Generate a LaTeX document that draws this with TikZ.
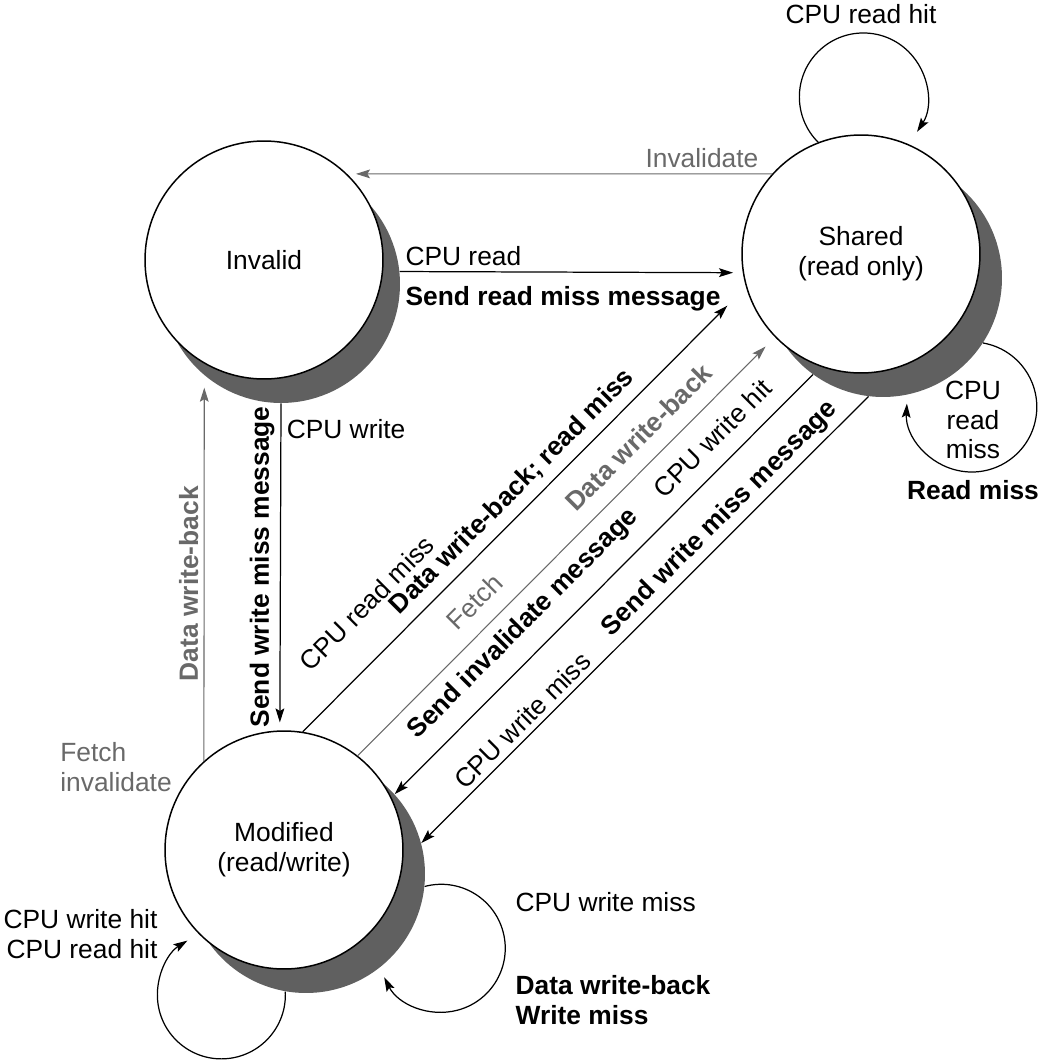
\documentclass[tikz,border=0pt]{standalone}
\usepackage{fontspec}
\setmainfont{Liberation Sans}
\usetikzlibrary{positioning,calc,arrows.meta}

\definecolor{darkshade}{RGB}{96,96,96}
\definecolor{msggray}{RGB}{105,105,105}

\tikzset{
  statenode/.style={circle, draw, fill=white, line width=0.85pt, minimum size=4.76cm, inner sep=0pt, align=center},
  shadowdisk/.style={circle, fill=darkshade, minimum size=4.76cm, inner sep=0pt},
  arr/.style={-{Stealth[length=8pt,width=5pt,inset=1.5pt]}, line width=0.7pt},
  backarr/.style={{Stealth[length=8pt,width=5pt,inset=1.5pt]}-, line width=0.7pt},
  garr/.style={arr, draw=msggray, line width=0.6pt},
  lbl/.style={inner sep=3pt},
  blbl/.style={lbl, font=\fontsize{15}{17}\selectfont\bfseries},
  glbl/.style={lbl, text=msggray},
  gblbl/.style={blbl, text=msggray},
}

\begin{document}
\begin{tikzpicture}[x=0.02cm, y=-0.02cm, every node/.style={font=\fontsize{15}{17}\selectfont}]
  \useasboundingbox (0,0) rectangle (1043,1064);

  % states
  \node[shadowdisk] (invsh) at (281,284) {};
  \node[shadowdisk] (shash) at (883,278) {};
  \node[shadowdisk] (modsh) at (306,874) {};
  \node[statenode] (inv) at (264,260) {Invalid};
  \node[statenode] (sha) at (861,254) {Shared\\(read only)};
  \node[statenode] (mod) at (284,850) {Modified\\(read/write)};

  % Invalid <-> Shared
  \draw[garr, shorten >=5pt] (sha.138) -- (inv.46)
    node[glbl, pos=0.165, above] (invtxt) {Invalidate};
  \draw[arr, shorten >=5.5pt] (invsh.6) -- (sha.189)
    node[lbl, pos=0, anchor=south west] (rdtxt) {CPU read}
    node[blbl, pos=0, anchor=north west, yshift=-5pt] (rdmsg) {Send read miss message};

  % Invalid <-> Modified
  \draw[arr, shorten >=4.5pt] (invsh.-90.5) -- (mod.92)
    node[lbl, pos=0.08, right] (cwtxt) {CPU write}
    node[blbl, midway, rotate=90, anchor=south] (cwmsg) {Send write miss message};
  \draw[garr, shorten >=7pt] (mod.132) -- (invsh.-130.3)
    node[gblbl, pos=0.46, sloped, above] (dwbtxt) {Data write-back}
    node[glbl, pos=0, left=15pt, yshift=-3.5pt, align=left] (fitxt) {Fetch\\invalidate};

  % Modified <-> Shared
  \draw[arr, shorten >=15pt] (mod.81.5) -- (sha.196.2)
    node[lbl, pos=0.217, sloped, above=17pt] (crmtxt) {CPU read miss}
    node[blbl, pos=0.506, sloped, above=2pt] (crmmsg) {Data write-back; read miss};
  \draw[garr, shorten >=7.5pt] (mod.52.5) -- (sha.224)
    node[glbl, pos=0.324, sloped, above=6pt] (fetchtxt) {Fetch}
    node[gblbl, pos=0.717, sloped, above=6pt] (fdwbtxt) {Data write-back};
  \draw[backarr] (modsh.42.3) -- (shash.234.6)
    node[blbl, pos=0.357, sloped, above=6pt] (sinvmsg) {Send invalidate message}
    node[lbl, pos=0.804, sloped, above=6pt] (cwhtxt) {CPU write hit};
  \draw[backarr] (modsh.15.1) -- (shash.263.2)
    node[lbl, pos=0.25, sloped, above=0pt] (cwmtxt) {CPU write miss}
    node[blbl, pos=0.697, sloped, above=0pt] (swmmsg) {Send write miss message};

  % self loops
  \draw[arr] (sha.111) arc[start angle=135, end angle=393, radius=64];
  \node[lbl, above=2.1cm of sha] (rhtxt) {CPU read hit};
  \draw[arr] (shash.-33) arc[start angle=-80, end angle=183, radius=65];
  \node[lbl, align=center] (rmtxt) at ($(shash)+(90,142)$) {CPU\\read\\miss};
  \node[blbl, below=5.5pt of rmtxt] (rmmsg) {Read miss};
  \draw[arr] (modsh.260) arc[start angle=-3, end angle=238, radius=64];
  \node[lbl, align=right, anchor=east] (hittxt) at ($(mod)+(-121,84)$) {CPU write hit\\CPU read hit};
  \draw[arr] (modsh.-6) arc[start angle=-105, end angle=153, radius=64];
  \node[lbl, anchor=west] (wmtxt) at ($(modsh)+(204,28)$) {CPU write miss};
  \node[blbl, align=left, anchor=west] (wbtxt) at ($(modsh)+(204,126)$) {Data write-back\\Write miss};
\end{tikzpicture}
\end{document}
